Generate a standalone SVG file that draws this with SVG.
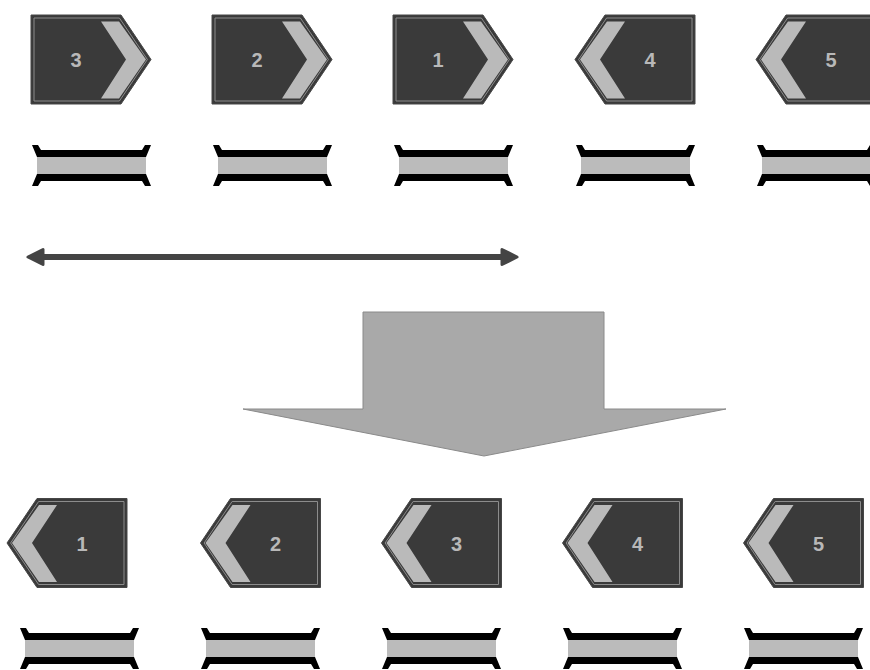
<svg xmlns="http://www.w3.org/2000/svg" xmlns:xlink="http://www.w3.org/1999/xlink" width="870" height="670" viewBox="0 0 870 670">
  <style>
    .outer { fill: #3a3a3a; stroke: #474747; stroke-width: 1; }
    .inner { fill: none; stroke: #8c8c8c; stroke-width: 1; }
    .chev { fill: #bababa; }
    .num { font-family: "Liberation Sans", Arial, sans-serif; font-weight: bold; font-size: 20px; fill: #b8b8b8; text-anchor: middle; }
    .bk { fill: #000; }
    .gr { fill: #bbbbbb; }
    .conn { stroke: #444; stroke-width: 6; fill: none; }
    .head { fill: #444; stroke: #444; stroke-width: 3; stroke-linejoin: round; }
    .big { fill: #a9a9a9; stroke: #8a8a8a; stroke-width: 1; }
  </style>
  <defs>
    <g id="tagR">
      <path class="outer" d="M0,0 H90 L120,44.5 L90,89 H0 Z"/>
      <path class="inner" d="M3,3 H88.4 L116.4,44.5 L88.4,86 H3 Z"/>
      <path class="chev" d="M70,6.5 H88 L115,44.5 L88,83.5 H70 L95,44.5 Z"/>
    </g>
    <g id="bar">
      <path class="bk" d="M0,0 H6 L9,5 H110 L113,0 H119 L114,12 H5 Z"/>
      <rect class="gr" x="5" y="12" width="109" height="17"/>
      <path class="bk" d="M5,29 H114 L119,41 H113 L110,36 H9 L6,41 H0 Z"/>
    </g>
  </defs>
  <rect width="870" height="670" fill="#ffffff"/>

  <g id="top-3"><use xlink:href="#tagR" transform="translate(31,15)"/><text class="num" x="76" y="67">3</text></g>
  <g id="top-2"><use xlink:href="#tagR" transform="translate(212,15)"/><text class="num" x="257" y="67">2</text></g>
  <g id="top-1"><use xlink:href="#tagR" transform="translate(393,15)"/><text class="num" x="438" y="67">1</text></g>
  <g id="top-4"><use xlink:href="#tagR" transform="translate(695,15) scale(-1,1)"/><text class="num" x="650" y="67">4</text></g>
  <g id="top-5"><use xlink:href="#tagR" transform="translate(876,15) scale(-1,1)"/><text class="num" x="831" y="67">5</text></g>

  <g id="top-bar-1"><use xlink:href="#bar" transform="translate(32,145)"/></g>
  <g id="top-bar-2"><use xlink:href="#bar" transform="translate(213,145)"/></g>
  <g id="top-bar-3"><use xlink:href="#bar" transform="translate(394,145)"/></g>
  <g id="top-bar-4"><use xlink:href="#bar" transform="translate(576,145)"/></g>
  <g id="top-bar-5"><use xlink:href="#bar" transform="translate(757,145)"/></g>

  <g id="connectors">
    <line class="conn" x1="40" y1="257" x2="505" y2="257"/>
    <path class="head" d="M28,257 L43,249.5 L43,264.5 Z"/>
    <path class="head" d="M517,257 L502,249.5 L502,264.5 Z"/>
  </g>

  <g id="big-arrow">
    <path class="big" d="M363,312 H604 V409 H726 L484,456 L243,409 H363 Z"/>
  </g>

  <g id="bot-1"><use xlink:href="#tagR" transform="translate(127,498.5) scale(-1,1)"/><text class="num" x="82" y="550.5">1</text></g>
  <g id="bot-2"><use xlink:href="#tagR" transform="translate(320.5,498.5) scale(-1,1)"/><text class="num" x="275.5" y="550.5">2</text></g>
  <g id="bot-3"><use xlink:href="#tagR" transform="translate(501.5,498.5) scale(-1,1)"/><text class="num" x="456.5" y="550.5">3</text></g>
  <g id="bot-4"><use xlink:href="#tagR" transform="translate(682.5,498.5) scale(-1,1)"/><text class="num" x="637.5" y="550.5">4</text></g>
  <g id="bot-5"><use xlink:href="#tagR" transform="translate(863.5,498.5) scale(-1,1)"/><text class="num" x="818.5" y="550.5">5</text></g>

  <g id="bot-bar-1"><use xlink:href="#bar" transform="translate(20,628)"/></g>
  <g id="bot-bar-2"><use xlink:href="#bar" transform="translate(201,628)"/></g>
  <g id="bot-bar-3"><use xlink:href="#bar" transform="translate(382,628)"/></g>
  <g id="bot-bar-4"><use xlink:href="#bar" transform="translate(563,628)"/></g>
  <g id="bot-bar-5"><use xlink:href="#bar" transform="translate(744,628)"/></g>
</svg>
